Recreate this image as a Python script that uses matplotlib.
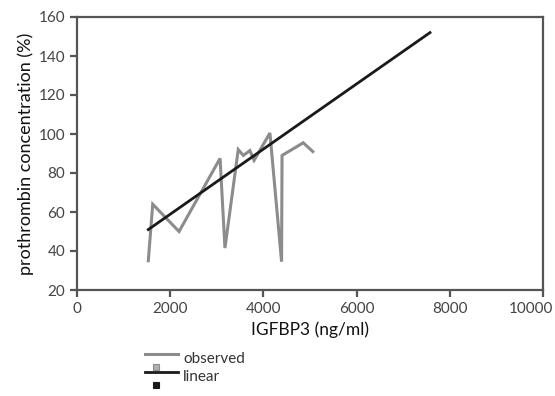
import numpy as np
import matplotlib
matplotlib.use('Agg')
import matplotlib.pyplot as plt
from matplotlib.lines import Line2D
from matplotlib.legend_handler import HandlerBase
from matplotlib.transforms import ScaledTranslation

plt.rcParams['font.family'] = ['Lato', 'DejaVu Sans']

obs_x = [1530, 1625, 2190, 3070, 3175, 3460, 3570, 3710, 3800, 4140, 4390, 4400, 4855, 5060]
obs_y = [35, 64, 50, 87.5, 41.5, 92, 89, 91.5, 86.5, 100.5, 34.5, 89, 95.5, 91]

lin_x = [1530, 7575]
lin_y = [51, 152]

gray = '#8c8c8c'
dark = '#1a1a1a'
axcol = '#555555'


class LineSquare(HandlerBase):
    # line with a small square under it, like the original legend
    def create_artists(self, legend, orig, xd, yd, width, height, fontsize, trans):
        c = orig.get_color()
        ln = Line2D([-xd, -xd + width], [height * 0.8, height * 0.8],
                    color=c, lw=orig.get_linewidth(), transform=trans)
        sq = Line2D([-xd + width * 0.35], [-height * 0.35], marker='s', ms=4,
                    color=c, mfc=c if c == dark else '#b0b0b0', mec=c, mew=0.8,
                    linestyle='none', transform=trans)
        return [ln, sq]


fig = plt.figure(figsize=(5.55, 3.96), dpi=100)
ax = fig.add_axes([77/555, 1 - 290/396, 466/555, 273/396])

l1, = ax.plot(obs_x, obs_y, color=gray, lw=2.2, label='observed', solid_joinstyle='miter')
l2, = ax.plot(lin_x, lin_y, color=dark, lw=2.0, label='linear')

ax.set_xlim(0, 10000)
ax.set_ylim(20, 160)
ax.set_xticks([0, 2000, 4000, 6000, 8000, 10000])
ax.set_yticks(range(20, 161, 20))
for s in ax.spines.values():
    s.set_color(axcol)
    s.set_linewidth(1.6)
ax.tick_params(colors=axcol, labelcolor='#444444', labelsize=11, length=5, width=1.6)

# last x label sits a little to the left so it stays inside the picture
last = ax.get_xticklabels()[-1]
last.set_transform(last.get_transform() + ScaledTranslation(-0.12, 0, fig.dpi_scale_trans))

ax.set_xlabel('IGFBP3 (ng/ml)', fontsize=12.5, color='#111111', labelpad=4)
ax.set_ylabel('prothrombin concentration (%)', fontsize=13, color='#111111', labelpad=3)

fig.legend(handles=[l1, l2], labels=['observed', 'linear'],
           handler_map={Line2D: LineSquare()},
           loc='upper left', bbox_to_anchor=(145/555, 1 - 352/396),
           frameon=False, fontsize=11, handlelength=2.15, handletextpad=0.35,
           labelspacing=0.25, borderpad=0, borderaxespad=0, labelcolor='#333333')

fig.savefig('out.png', dpi=100)
